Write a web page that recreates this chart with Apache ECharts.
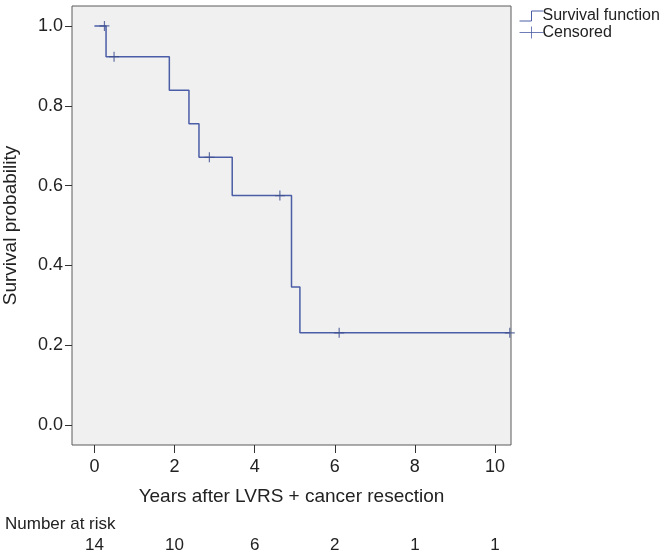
<!DOCTYPE html>
<html><head><meta charset="utf-8">
<script src="https://cdn.jsdelivr.net/npm/echarts@6/dist/echarts.min.js"></script>
<style>html,body{margin:0;padding:0;background:#fff}#c{width:661px;height:553px}</style>
</head><body><div id="c"></div>
<script>
// Kaplan-Meier step points: [years, survival]
const survivalTimes = [0, 0.29, 1.87, 2.36, 2.61, 3.44, 4.92, 5.13, 10.37];
const survivalValues = [1.0, 0.923, 0.839, 0.755, 0.671, 0.575, 0.346, 0.231, 0.231];
const censoredTimes = [0.25, 0.49, 2.87, 4.63, 6.11, 10.37];
const censoredValues = [1.0, 0.923, 0.671, 0.575, 0.231, 0.231];
const xTicks = [0, 2, 4, 6, 8, 10];
const yTicks = [0, 0.2, 0.4, 0.6, 0.8, 1.0];
const numberAtRisk = [14, 10, 6, 2, 1, 1];

const lineColor = '#4a5da6';
const font = 'Liberation Sans, Arial, sans-serif';
const chart = echarts.init(document.getElementById('c'), null, {renderer: 'canvas'});
const riskMap = {};
xTicks.forEach((t, i) => riskMap[t] = numberAtRisk[i]);

chart.setOption({
  animation: false,
  textStyle: {fontFamily: font},
  grid: {left: 72, top: 6, right: 150, bottom: 108, show: true, outerBoundsMode: 'none', containLabel: false,
         backgroundColor: '#f0f0f0', borderColor: '#5a5a5a', borderWidth: 1},
  legend: {
    orient: 'vertical', left: 512, top: 3, itemGap: 0, itemWidth: 24, itemHeight: 12,
    textStyle: {fontSize: 16, color: '#222', fontFamily: font, padding: [0, 0, 0, -6]},
    data: [
      {name: 'Survival function', icon: 'path://M0,10L12,10L12,0L24,0', itemStyle: {color: 'none', borderColor: lineColor, borderWidth: 1}},
      {name: 'Censored', icon: 'path://M0,6L24,6M12,0L12,12', itemStyle: {color: 'none', borderColor: lineColor, borderWidth: 1}}
    ]
  },
  xAxis: [{
    type: 'value', min: -0.56, max: 10.4, gridIndex: 0,
    name: 'Years after LVRS + cancer resection', nameLocation: 'middle', nameGap: 42,
    nameTextStyle: {fontSize: 19, color: '#222'},
    axisLine: {show: false, onZero: false}, splitLine: {show: false},
    axisTick: {show: true, inside: false, length: 8, customValues: xTicks, lineStyle: {color: '#333'}},
    axisLabel: {customValues: xTicks, fontSize: 18, color: '#222', margin: 13}
  }, {
    type: 'value', min: -0.56, max: 10.4, gridIndex: 0, position: 'bottom', offset: 88,
    axisLine: {show: false, onZero: false}, axisTick: {show: false}, splitLine: {show: false},
    axisLabel: {customValues: xTicks, fontSize: 17, color: '#222', margin: 4, formatter: v => String(riskMap[v])}
  }],
  yAxis: {
    type: 'value', min: -0.05, max: 1.05,
    name: 'Survival probability', nameLocation: 'middle', nameGap: 52, nameRotate: 90,
    nameTextStyle: {fontSize: 19, color: '#222'},
    axisLine: {show: false, onZero: false}, splitLine: {show: false},
    axisTick: {show: true, inside: false, length: 7, customValues: yTicks, lineStyle: {color: '#333'}},
    axisLabel: {customValues: yTicks, fontSize: 18, color: '#222', margin: 9, formatter: v => v.toFixed(1)}
  },
  graphic: [{type: 'text', left: 5, top: 516, style: {text: 'Number at risk', fontSize: 17, fill: '#222', fontFamily: font}}],
  series: [{
    name: 'Survival function', type: 'line', step: 'end', symbol: 'none',
    lineStyle: {color: lineColor, width: 1.5},
    data: survivalTimes.map((t, i) => [t, survivalValues[i]])
  }, {
    name: 'Censored', type: 'scatter', symbol: 'path://M5,0L5,10M0,5L10,5', symbolSize: 10,
    itemStyle: {color: 'none', borderColor: '#3d4f8f', borderWidth: 1.2},
    data: censoredTimes.map((t, i) => [t, censoredValues[i]]), z: 3
  }]
});
</script></body></html>
